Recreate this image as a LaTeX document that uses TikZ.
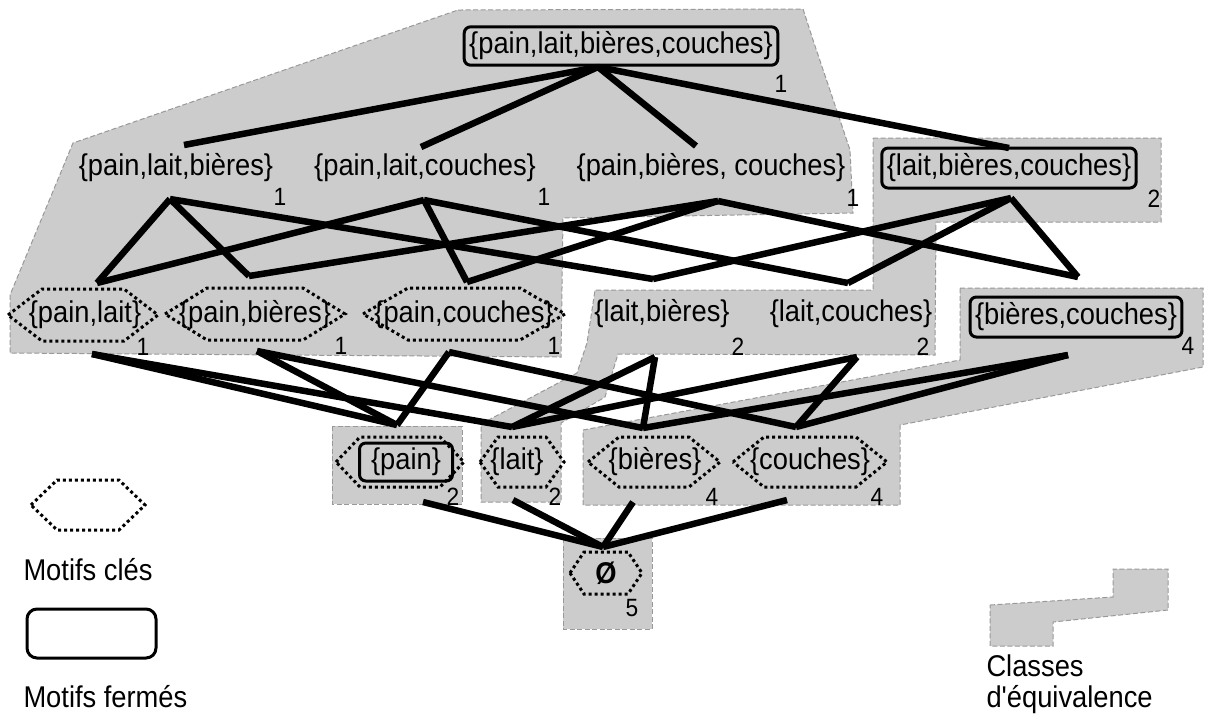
\documentclass[tikz,border=0pt]{standalone}
\usepackage{fontspec}
\setmainfont{Liberation Sans}[FakeStretch=0.91,Ligatures=TeXOff]

\definecolor{classgray}{HTML}{CCCCCC}

\tikzset{
	classe/.style = {fill = classgray, draw = gray!80, line width = 0.4pt, dash pattern = on 2pt off 1pt},
	lattice/.style = {line width = 2.6pt},
	keyline/.style = {line width = 1.2pt, dash pattern = on 1.2pt off 1.2pt},
	closedline/.style = {line width = 1.2pt},
	itemset/.style = {font = \fontsize{12}{14}\selectfont, inner sep = 0pt},
	closed/.style = {itemset, draw, closedline, rounded corners = 2.5pt, inner xsep = 2pt, inner ysep = 2pt},
	support/.style = {font = \fontsize{10}{12}\selectfont, inner sep = 0pt}
}

\begin{document}
\begin{tikzpicture}[x = 0.4pt, y = -0.4pt]
	\useasboundingbox (0, 0) rectangle (1205, 716);
	
	% classes d'equivalence
	\draw[classe] (458, 10) -- (803, 9) -- (813, 40) -- (840, 120) -- (850, 150) -- (853, 213) -- (563, 218) -- (561, 357) -- (10, 353) -- (10, 295) -- (73, 143) -- cycle;
	\draw[classe] (873, 138) -- (1161, 138) -- (1161, 222) -- (936, 222) -- (935, 355) -- (618, 354) -- (605, 397) -- (561, 423) -- (561, 502) -- (481, 502) -- (481, 424) -- (577, 373) -- (587, 343) -- (595, 290) -- (873, 290) -- cycle;
	\draw[classe] (960, 288) -- (1203, 288) -- (1203, 367) -- (900, 425) -- (900, 505) -- (583, 505) -- (583, 430) -- (960, 360) -- cycle;
	\draw[classe] (332, 426) rectangle (462, 504);
	\draw[classe] (563, 538) rectangle (652, 629);
	\draw[classe] (990, 605) -- (1113, 597) -- (1113, 569) -- (1168, 569) -- (1168, 610) -- (1053, 622) -- (1053, 646) -- (990, 646) -- cycle;
	
	% motifs cles
	\foreach \x/\y/\w/\f/\h in {83/315/75/41/26, 255/314/90/48/26, 464/314/101/56/26, 400/462/64/40/25, 522/462/42/24/25, 654/462/66/35/25, 810/462/77/46/25, 606/573/36/22/21, 88/505/57/31/25}
	\draw[keyline] (\x-\w, \y) -- (\x-\f, \y-\h) -- (\x+\f, \y-\h) -- (\x+\w, \y) -- (\x+\f, \y+\h) -- (\x-\f, \y+\h) -- cycle;
	
	% itemsets
	\node[closed, minimum height = 15.2pt] (plbc) at (621, 46) {\{pain,lait,bières,couches\}};
	
	\node[itemset] (plb) at (176, 168) {\{pain,lait,bières\}};
	\node[itemset] (plc) at (425, 168) {\{pain,lait,couches\}};
	\node[itemset] (pbc) at (711, 168) {\{pain,bières, couches\}};
	\node[closed, minimum height = 16pt] (lbc) at (1009, 168) {\{lait,bières,couches\}};
	
	\node[itemset] (pl) at (85, 315) {\{pain,lait\}};
	\node[itemset] (pb) at (255, 315) {\{pain,bières\}};
	\node[itemset] (pc) at (464, 315) {\{pain,couches\}};
	\node[itemset] (lb) at (662, 314) {\{lait,bières\}};
	\node[itemset] (lc) at (851, 314) {\{lait,couches\}};
	\node[closed, minimum height = 16pt] (bc) at (1076, 317) {\{bières,couches\}};
	
	\node[closed, minimum height = 12.4pt, minimum width = 37.2pt] (p) at (406, 462) {\{pain\}};
	\node[itemset] (l) at (517, 462) {\{lait\}};
	\node[itemset] (b) at (655, 462) {\{bières\}};
	\node[itemset] (c) at (810, 462) {\{couches\}};
	
	\node[itemset] (e) at (606, 573) {\bfseries Ø};
	
	% supports
	\foreach \nd/\x/\y/\s in {plbc/781/84/1, plb/280/197/1, plc/544/197/1, pbc/853/198/1, lbc/1154/199/2, pl/143/347/1, pb/341/346/1, pc/554/346/1, lb/738/347/2, lc/923/347/2, bc/1188/346/4, p/453/497/2, l/555/497/2, b/712/497/4, c/877/497/4, e/632/608/5}
	\node[support] (s-\nd) at (\x, \y) {\s};
	
	% points d'attache
	\foreach \nd/\x/\y in {plb/184/145, plc/421/147, pbc/696/146, lbc/1009/148, pl/97/283, pb/249/276, pc/467/282, lb/653/279, lc/848/283, bc/1078/277, p/397/425, l/512/427, b/643/428, c/796/427, e/603/547}
	\coordinate (\nd-up) at (\x, \y);
	\foreach \nd/\x/\y in {plbc/598/67, plb/170/199, plc/424/200, pbc/718/201, lbc/1011/198, pl/92/354, pb/257/351, pc/449/352, lb/655/357, lc/857/357, bc/1068/355, p/423/502, l/513/500, b/633/502, c/787/500}
	\coordinate (\nd-dn) at (\x, \y);
	
	% treillis
	\foreach \a/\b in {plbc/plb, plbc/plc, plbc/pbc, plbc/lbc, plb/pl, plb/pb, plb/lb, plc/pl, plc/pc, plc/lc, pbc/pb, pbc/pc, pbc/bc, lbc/lb, lbc/lc, lbc/bc, pl/p, pl/l, pb/p, pb/b, pc/p, pc/c, lb/l, lb/b, lc/l, lc/c, bc/b, bc/c, p/e, l/e, b/e, c/e}
	\draw[lattice] (\a-dn) -- (\b-up);
	
	% legende
	\node[itemset, anchor = west] (lgkey) at (23, 570) {Motifs clés};
	\draw[closedline, rounded corners = 4pt] (27, 609) rectangle (156, 658);
	\node[itemset, anchor = west] (lgclosed) at (23, 697) {Motifs fermés};
	\node[itemset, anchor = north west, align = left, font = \fontsize{12}{12.4}\selectfont] (lgclass) at (986, 654) {Classes\\d'équivalence};
\end{tikzpicture}
\end{document}
